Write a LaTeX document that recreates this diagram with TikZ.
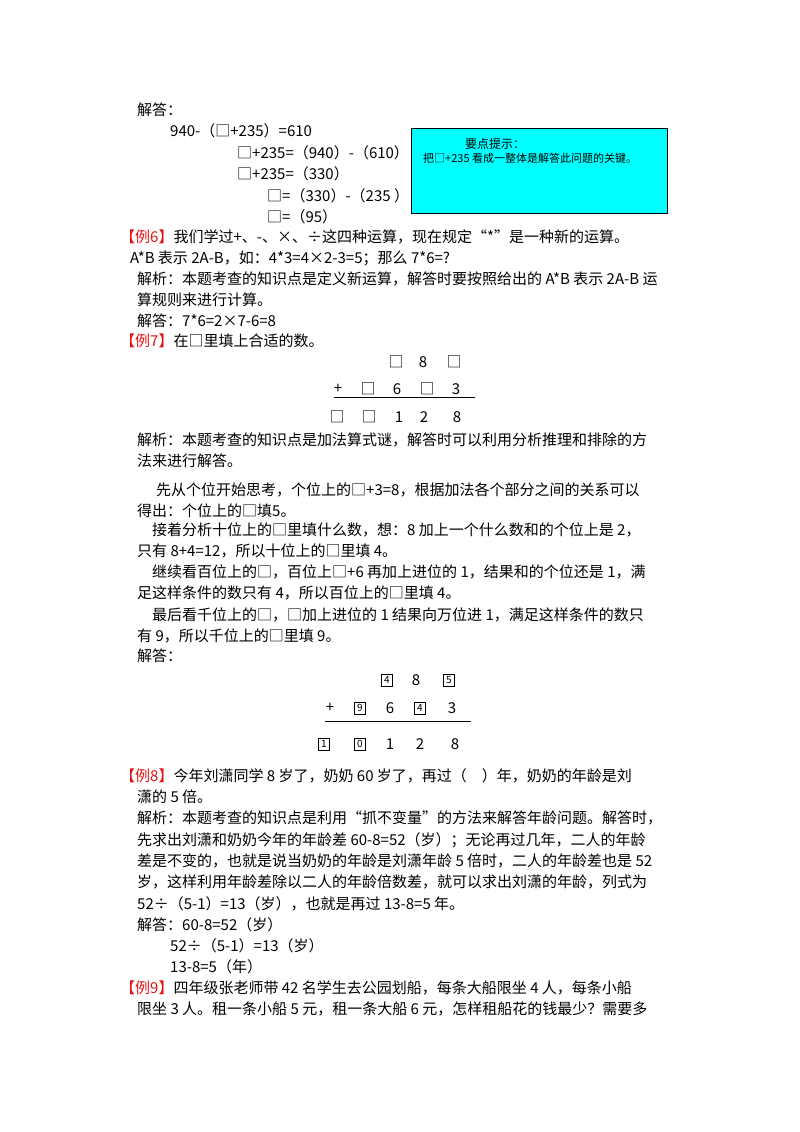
\documentclass[tikz,border=0pt]{standalone}
\usepackage{fontspec}
\setmainfont{Noto Sans CJK SC}
\newfontfamily\cjk{Noto Sans CJK SC}
\definecolor{hint}{RGB}{0,255,255}
\definecolor{exred}{RGB}{230,20,20}
\newcommand{\ex}[1]{\textcolor{exred}{【例#1】}}
\newcommand{\bx}[1]{\tikz[baseline=(b.base)]\node[draw,inner sep=1bp,minimum width=11bp,minimum height=12bp,font=\fontsize{10bp}{11bp}\selectfont](b){#1};}
\begin{document}
\begin{tikzpicture}[x=1bp,y=-1bp,
  L/.style={anchor=west,inner sep=0,font=\fontsize{15bp}{18bp}\selectfont},
  D/.style={anchor=center,inner sep=0,font=\fontsize{15bp}{18bp}\selectfont}]
\useasboundingbox[fill=white] (0,0) rectangle (800,1132);
\node[L] (a1) at (137,110) {解答：};
\node[L] (a2) at (170,131) {940-（□+235）=610};
\node[L] (a3) at (237,153) {□+235=（940）-（610）};
\node[L] (a4) at (237,174) {□+235=（330）};
\node[L] (a5) at (267,196) {□=（330）-（235 ）};
\node[L] (a6) at (267,217) {□=（95）};
\node[draw,fill=hint,minimum width=256bp,minimum height=85bp,anchor=north west,line width=0.8bp] (hb) at (411,128) {};
\node[inner sep=0,font=\fontsize{12bp}{14bp}\selectfont] (ht) at (495,144) {要点提示：};
\node[inner sep=0,font=\fontsize{11bp}{13bp}\selectfont,anchor=west] (hs) at (423,158) {把□+235 看成一整体是解答此问题的关键。};
\node[L] (b1) at (120,237) {\ex{6}我们学过+、-、×、÷这四种运算，现在规定“*”是一种新的运算。};
\node[L] (b2) at (130,258) {A*B 表示 2A-B，如：4*3=4×2-3=5；那么 7*6=?};
\node[L] (b3) at (137,279) {解析：本题考查的知识点是定义新运算，解答时要按照给出的 A*B 表示 2A-B 运};
\node[L] (b4) at (137,300) {算规则来进行计算。};
\node[L] (b5) at (137,321) {解答：7*6=2×7-6=8};
\node[L] (b6) at (120,341) {\ex{7}在□里填上合适的数。};
% puzzle 1
\node[D] (p11) at (396,362) {□}; \node[D] (p12) at (423,362) {8}; \node[D] (p13) at (454,362) {□};
\node[D] (p21) at (338,389) {+}; \node[D] (p22) at (368,389) {□}; \node[D] (p23) at (397,389) {6}; \node[D] (p24) at (427,389) {□}; \node[D] (p25) at (456,389) {3};
\node[D] (p31) at (337,417) {□}; \node[D] (p32) at (369,417) {□}; \node[D] (p33) at (399,417) {1}; \node[D] (p34) at (424,417) {2}; \node[D] (p35) at (457,417) {8};
\coordinate (r1a) at (334,397); \coordinate (r1b) at (475,397);
\draw[line width=1bp] (r1a) -- (r1b);
\node[L] (c1) at (137,440) {解析：本题考查的知识点是加法算式谜，解答时可以利用分析推理和排除的方};
\node[L] (c2) at (137,461) {法来进行解答。};
\node[L] (c3) at (156,490) {先从个位开始思考，个位上的□+3=8，根据加法各个部分之间的关系可以};
\node[L] (c4) at (137,511) {得出：个位上的□填5。};
\node[L] (c5) at (152,530) {接着分析十位上的□里填什么数，想：8 加上一个什么数和的个位上是 2，};
\node[L] (c6) at (137,551) {只有 8+4=12，所以十位上的□里填 4。};
\node[L] (c7) at (152,572) {继续看百位上的□，百位上□+6 再加上进位的 1，结果和的个位还是 1，满};
\node[L] (c8) at (137,593) {足这样条件的数只有 4，所以百位上的□里填 4。};
\node[L] (c9) at (152,615) {最后看千位上的□，□加上进位的 1 结果向万位进 1，满足这样条件的数只};
\node[L] (c10) at (137,636) {有 9，所以千位上的□里填 9。};
\node[L] (c11) at (137,656) {解答：};
% puzzle 2
\node[D] (q11) at (387,680) {\bx{4}}; \node[D] (q12) at (416,680) {8}; \node[D] (q13) at (449,680) {\bx{5}};
\node[D] (q21) at (330,708) {+}; \node[D] (q22) at (360,708) {\bx{9}}; \node[D] (q23) at (390,708) {6}; \node[D] (q24) at (420,708) {\bx{4}}; \node[D] (q25) at (452,708) {3};
\node[D] (q31) at (324,744) {\bx{1}}; \node[D] (q32) at (360,744) {\bx{0}}; \node[D] (q33) at (390,744) {1}; \node[D] (q34) at (420,744) {2}; \node[D] (q35) at (455,744) {8};
\coordinate (r2a) at (325,721); \coordinate (r2b) at (471,721);
\draw[line width=1bp] (r2a) -- (r2b);
\node[L] (d1) at (120,776) {\ex{8}今年刘潇同学 8 岁了，奶奶 60 岁了，再过（\quad）年，奶奶的年龄是刘};
\node[L] (d2) at (137,797) {潇的 5 倍。};
\node[L] (d3) at (137,818) {解析：本题考查的知识点是利用“抓不变量”的方法来解答年龄问题。解答时，};
\node[L] (d4) at (137,840) {先求出刘潇和奶奶今年的年龄差 60-8=52（岁）；无论再过几年，二人的年龄};
\node[L] (d5) at (137,861) {差是不变的，也就是说当奶奶的年龄是刘潇年龄 5 倍时，二人的年龄差也是 52};
\node[L] (d6) at (137,882) {岁，这样利用年龄差除以二人的年龄倍数差，就可以求出刘潇的年龄，列式为};
\node[L] (d7) at (137,904) {52÷（5-1）=13（岁），也就是再过 13-8=5 年。};
\node[L] (d8) at (137,925) {解答：60-8=52（岁）};
\node[L] (d9) at (170,946) {52÷（5-1）=13（岁）};
\node[L] (d10) at (170,967) {13-8=5（年）};
\node[L] (d11) at (120,988) {\ex{9}四年级张老师带 42 名学生去公园划船，每条大船限坐 4 人，每条小船};
\node[L] (d12) at (137,1009) {限坐 3 人。租一条小船 5 元，租一条大船 6 元，怎样租船花的钱最少？需要多};
\end{tikzpicture}
\end{document}
